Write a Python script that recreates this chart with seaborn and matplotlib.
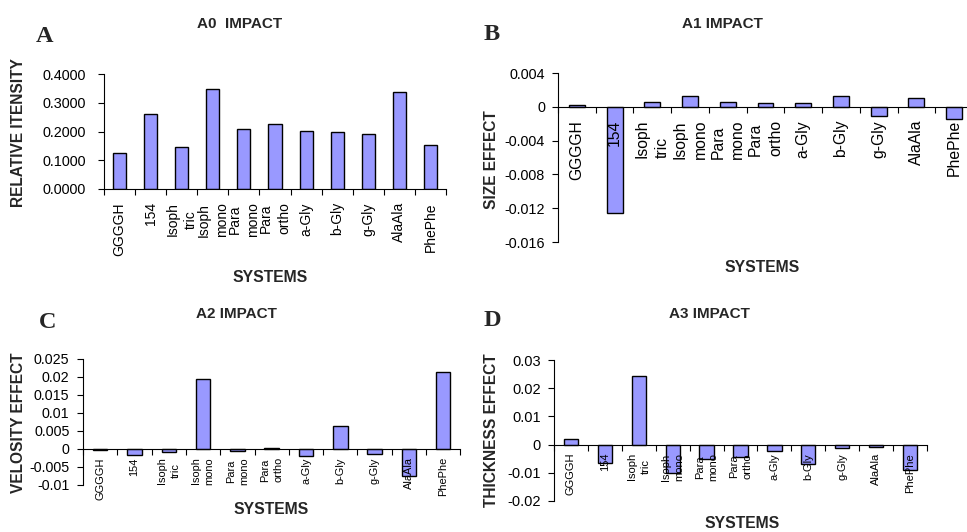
import numpy as np
import matplotlib
matplotlib.use("Agg")
import matplotlib.pyplot as plt
import seaborn as sns

# ---- data ----
systems = ["GGGGH", "154", "Isoph\ntric", "Isoph\nmono", "Para\nmono", "Para\northo",
           "a-Gly", "b-Gly", "g-Gly", "AlaAla", "PhePhe"]

a0_intensity = [0.124, 0.260, 0.146, 0.347, 0.209, 0.225, 0.203, 0.200, 0.193, 0.339, 0.154]
a1_size = [0.0002, -0.0126, 0.0006, 0.0013, 0.0006, 0.0004, 0.0004, 0.0013, -0.0011, 0.0010, -0.0014]
a2_velocity = [-0.0003, -0.0018, -0.0008, 0.0194, -0.0005, 0.0002, -0.0020, 0.0063, -0.0014, -0.0076, 0.0214]
a3_thickness = [0.0020, -0.0064, 0.0243, -0.0100, -0.0052, -0.0043, -0.0024, -0.0068, -0.0012, -0.0007, -0.0090]

a0_ticks = [0.0, 0.1, 0.2, 0.3, 0.4]
a0_ticklabels = ["0.0000", "0.1000", "0.2000", "0.3000", "0.4000"]
a1_ticks = [0.004, 0.0, -0.004, -0.008, -0.012, -0.016]
a1_ticklabels = ["0.004", "0", "-0.004", "-0.008", "-0.012", "-0.016"]
a2_ticks = [0.025, 0.02, 0.015, 0.01, 0.005, 0.0, -0.005, -0.01]
a2_ticklabels = ["0.025", "0.02", "0.015", "0.01", "0.005", "0", "-0.005", "-0.01"]
a3_ticks = [0.03, 0.02, 0.01, 0.0, -0.01, -0.02]
a3_ticklabels = ["0.03", "0.02", "0.01", "0", "-0.01", "-0.02"]

BAR_COLOR = "#9999FF"

sns.set_theme(style="white")
plt.rcParams["font.family"] = ["Liberation Sans", "DejaVu Sans"]

W, H = 967, 532
fig = plt.figure(figsize=(W / 100, H / 100), dpi=100)


def px_rect(l, t, r, b):
    return [l / W, 1 - b / H, (r - l) / W, (b - t) / H]


def fx(x):
    return x / W


def fy(y):
    return 1 - y / H


panels = [
    dict(rect=(104, 74, 446, 189), values=a0_intensity, ylim=(0, 0.4),
         ticks=a0_ticks, ticklabels=a0_ticklabels, xfs=10, yfs=10.4, ypad=8.6, xpad=6.5,
         malign="center", title="A0  IMPACT", title_xy=(240, 24),
         ylabel="RELATIVE ITENSITY", ylabel_xy=(19, 132.5), xlabel_xy=(270, 278),
         letter="A", letter_xy=(45, 36)),
    dict(rect=(558, 73, 973, 242), values=a1_size, ylim=(-0.016, 0.004),
         ticks=a1_ticks, ticklabels=a1_ticklabels, xfs=11.3, yfs=10.4, ypad=4.8, xpad=6.5,
         malign="left", title="A1 IMPACT", title_xy=(722, 24),
         ylabel="SIZE EFFECT", ylabel_xy=(492, 160), xlabel_xy=(762, 268),
         letter="B", letter_xy=(492, 35)),
    dict(rect=(83, 358.7, 460.4, 485), values=a2_velocity, ylim=(-0.01, 0.025),
         ticks=a2_ticks, ticklabels=a2_ticklabels, xfs=7.9, yfs=10.3, ypad=5.3, xpad=3,
         malign="center", title="A2 IMPACT", title_xy=(236, 314),
         ylabel="VELOSITY EFFECT", ylabel_xy=(19, 423), xlabel_xy=(271, 510),
         letter="C", letter_xy=(48, 323)),
    dict(rect=(554, 360, 927, 501), values=a3_thickness, ylim=(-0.02, 0.03),
         ticks=a3_ticks, ticklabels=a3_ticklabels, xfs=8, yfs=10.5, ypad=4.8, xpad=3,
         malign="center", title="A3 IMPACT", title_xy=(709, 314),
         ylabel="THICKNESS EFFECT", ylabel_xy=(492, 430), xlabel_xy=(742, 524),
         letter="D", letter_xy=(492, 320)),
]

n = len(systems)
for p in panels:
    ax = fig.add_axes(px_rect(*p["rect"]))
    sns.barplot(x=systems, y=p["values"], color=BAR_COLOR, saturation=1,
                width=0.42, edgecolor="black", linewidth=1.0, ax=ax)
    ax.set_xlim(-0.5, n - 0.5)
    ax.set_ylim(*p["ylim"])
    ax.set_facecolor("white")
    # axis line, ticks and category names sit on top of the bars
    ax.set_axisbelow(False)

    for side in ("top", "right"):
        ax.spines[side].set_visible(False)
    for side in ("left", "bottom"):
        ax.spines[side].set_color("black")
        ax.spines[side].set_linewidth(0.8)
        ax.spines[side].set_zorder(3)
    ax.spines["bottom"].set_position(("data", 0))
    ax.grid(False)

    # category labels at bar centres, tick marks on category boundaries
    ax.set_xticks(np.arange(n))
    ax.set_xticklabels(systems, rotation=90, fontsize=p["xfs"], linespacing=1.4)
    for lab in ax.get_xticklabels():
        lab.set_multialignment(p["malign"])
    ax.set_xticks(np.arange(-0.5, n, 1), minor=True)
    ax.tick_params(axis="x", which="major", length=0, pad=p["xpad"] + 3, colors="black")
    ax.tick_params(axis="x", which="minor", length=4, width=0.8, direction="out",
                   color="black", bottom=True)

    ax.set_yticks(p["ticks"])
    ax.set_yticklabels(p["ticklabels"], fontsize=p["yfs"])
    ax.tick_params(axis="y", which="major", length=4.5, width=0.8, direction="out",
                   pad=p["ypad"], colors="black", left=True)

    ax.set_xlabel("")
    ax.set_ylabel("")

    fig.text(fx(p["title_xy"][0]), fy(p["title_xy"][1]), p["title"], ha="center",
             va="center", fontsize=11, fontweight="bold")
    fig.text(fx(p["ylabel_xy"][0]), fy(p["ylabel_xy"][1]), p["ylabel"], ha="center",
             va="center", rotation=90, fontsize=11.2, fontweight="bold")
    fig.text(fx(p["xlabel_xy"][0]), fy(p["xlabel_xy"][1]), "SYSTEMS", ha="center",
             va="center", fontsize=11.3, fontweight="bold")
    fig.text(fx(p["letter_xy"][0]), fy(p["letter_xy"][1]), p["letter"], ha="center",
             va="center", fontsize=17.5, fontweight="bold",
             family=["Liberation Serif", "DejaVu Serif"])

fig.savefig("out.png", dpi=100, facecolor="white")
